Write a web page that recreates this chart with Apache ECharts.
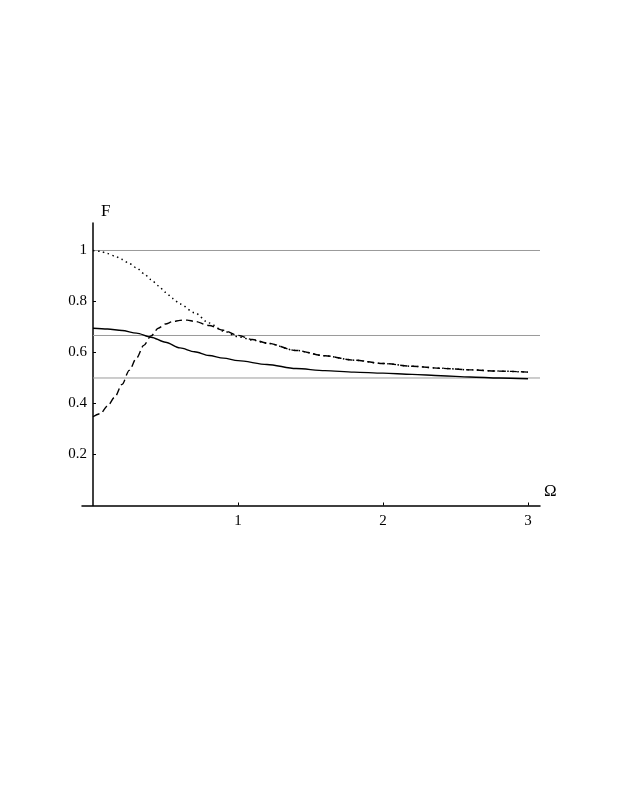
<!DOCTYPE html>
<html>
<head>
<meta charset="utf-8">
<script src="https://cdn.jsdelivr.net/npm/echarts@6/dist/echarts.min.js"></script>
<style>
html,body{margin:0;padding:0;background:#fff;}
#chart{width:623px;height:806px;}
</style>
</head>
<body>
<div id="chart"></div>
<script>
// Data
const xTicks = [1, 2, 3];
const yTicks = [0.2, 0.4, 0.6, 0.8, 1];
const refLevels = [1, 0.6667, 0.5];

const solidX = [0, 0.1, 0.2, 0.3, 0.4, 0.5, 0.6, 0.7, 0.8, 0.9, 1.0, 1.2, 1.4, 1.6, 1.8, 2.0, 2.2, 2.4, 2.6, 2.8, 3.0];
const solidY = [0.695, 0.692, 0.686, 0.676, 0.660, 0.640, 0.618, 0.603, 0.588, 0.578, 0.568, 0.553, 0.537, 0.529, 0.523, 0.519, 0.514, 0.509, 0.504, 0.500, 0.497];

const dashedX = [0, 0.05, 0.1, 0.15, 0.2, 0.25, 0.3, 0.35, 0.4, 0.45, 0.5, 0.55, 0.6, 0.65, 0.7, 0.8, 0.9, 1.0, 1.1, 1.2, 1.4, 1.6, 1.8, 2.0, 2.2, 2.4, 2.6, 2.8, 3.0];
const dashedY = [0.348, 0.36, 0.39, 0.425, 0.475, 0.53, 0.578, 0.628, 0.665, 0.695, 0.712, 0.721, 0.726, 0.727, 0.722, 0.706, 0.687, 0.667, 0.651, 0.637, 0.608, 0.587, 0.570, 0.557, 0.546, 0.538, 0.532, 0.527, 0.523];

const dottedX = [0, 0.05, 0.1, 0.15, 0.2, 0.25, 0.3, 0.35, 0.4, 0.45, 0.5, 0.55, 0.6, 0.7, 0.8, 0.9, 1.0, 1.1, 1.2, 1.4, 1.6, 1.8, 2.0, 2.2, 2.4, 2.6, 2.8, 3.0];
const dottedY = [1.0, 0.997, 0.988, 0.978, 0.965, 0.949, 0.932, 0.910, 0.886, 0.862, 0.836, 0.812, 0.790, 0.756, 0.716, 0.684, 0.662, 0.649, 0.636, 0.608, 0.587, 0.570, 0.557, 0.546, 0.538, 0.532, 0.527, 0.523];

const X_MIN = -0.0759, X_MAX = 3.0828, Y_MIN = 0, Y_MAX = 1.1078;

const zip = (xs, ys) => xs.map((x, i) => [x, ys[i]]);
const font = "'Liberation Serif', 'DejaVu Serif', serif";

const chart = echarts.init(document.getElementById('chart'), null, {renderer: 'canvas'});

const series = [];
refLevels.forEach(v => {
  series.push({
    type: 'line', data: [[0, v], [X_MAX, v]], symbol: 'none', silent: true,
    lineStyle: {color: '#9a9a9a', width: 1}, z: 1
  });
});
series.push({
  type: 'line', data: zip(solidX, solidY), symbol: 'none', smooth: 0.3, smoothMonotone: 'x',
  lineStyle: {color: '#000', width: 1.4, type: 'solid'}, z: 3
});
series.push({
  type: 'line', data: zip(dashedX, dashedY), symbol: 'none', smooth: 0.3, smoothMonotone: 'x',
  lineStyle: {color: '#000', width: 1.4, type: [7, 4]}, z: 3
});
series.push({
  type: 'line', data: zip(dottedX, dottedY), symbol: 'none', smooth: 0.3, smoothMonotone: 'x',
  lineStyle: {color: '#000', width: 1.5, type: [1.5, 3.5]}, z: 3
});

chart.setOption({
  backgroundColor: '#fff',
  animation: false,
  grid: {left: 82, right: 83, top: 223, bottom: 300.5, containLabel: false, outerBoundsMode: 'none'},
  xAxis: {
    type: 'value', min: X_MIN, max: X_MAX,
    name: 'Ω', nameLocation: 'end', nameGap: 4,
    nameTextStyle: {fontFamily: font, fontSize: 17, color: '#000', verticalAlign: 'bottom', padding: [0, 0, 5, 0]},
    axisLine: {show: true, onZero: true, lineStyle: {color: '#000', width: 1.5}},
    axisTick: {show: true, inside: true, length: 3, customValues: xTicks, lineStyle: {color: '#000', width: 1}},
    axisLabel: {show: true, customValues: xTicks, margin: 8, fontFamily: font, fontSize: 15, color: '#000'},
    splitLine: {show: false}
  },
  yAxis: {
    type: 'value', min: Y_MIN, max: Y_MAX,
    name: 'F', nameLocation: 'end', nameGap: 3,
    nameTextStyle: {fontFamily: font, fontSize: 17, color: '#000', align: 'left', padding: [0, 0, 0, 8]},
    axisLine: {show: true, onZero: true, lineStyle: {color: '#000', width: 1.5}},
    axisTick: {show: true, inside: true, length: 3, customValues: yTicks, lineStyle: {color: '#000', width: 1}},
    axisLabel: {show: true, customValues: yTicks, margin: -5, fontFamily: font, fontSize: 15, color: '#000'},
    splitLine: {show: false}
  },
  series: series
});
</script>
</body>
</html>
